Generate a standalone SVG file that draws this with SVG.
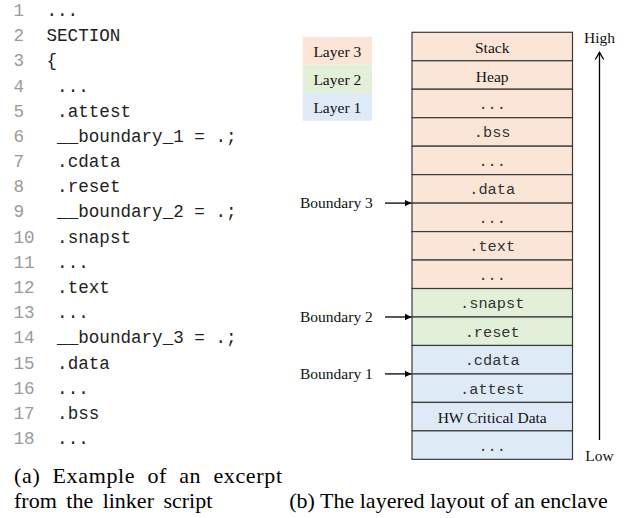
<svg xmlns="http://www.w3.org/2000/svg" width="628" height="518" viewBox="0 0 628 518">
<style>
.ln{font-family:"Liberation Mono","Courier New",monospace;font-size:17.6px;fill:#9a9a9a}
.code{font-family:"Liberation Mono","Courier New",monospace;font-size:17.6px;fill:#222}
.ser{font-family:"Liberation Serif","Times New Roman",serif;font-size:15.5px;fill:#111}
.mono{font-family:"Liberation Mono","Courier New",monospace;font-size:15.3px;fill:#333}
.cap{font-family:"Liberation Serif","Times New Roman",serif;font-size:22px;fill:#000}
.l3{fill:#FBE5D6}.l2{fill:#E2F0D9}.l1{fill:#DEEBF7}
.row{stroke:#3a3a3a;stroke-width:1.2}
.ctr{text-anchor:middle}
.arr{stroke:#000;stroke-width:1.3;fill:none}
</style>
<defs>
<marker id="tri" markerWidth="8" markerHeight="8" refX="7" refY="4" orient="auto" markerUnits="userSpaceOnUse">
<path d="M0,0.6 L7,4 L0,7.4 Z" fill="#000"/>
</marker>
</defs>

<g id="listing">
<text class="ln" x="13.5" y="16">1</text><text class="code" x="46.5" y="16">...</text>
<text class="ln" x="13.5" y="41.2">2</text><text class="code" x="46.5" y="41.2">SECTION</text>
<text class="ln" x="13.5" y="66.4">3</text><text class="code" x="46.5" y="66.4">{</text>
<text class="ln" x="13.5" y="91.5">4</text><text class="code" x="57.1" y="91.5">...</text>
<text class="ln" x="13.5" y="116.7">5</text><text class="code" x="57.1" y="116.7">.attest</text>
<text class="ln" x="13.5" y="141.9">6</text><text class="code" x="57.1" y="141.9">__boundary_1 = .;</text>
<text class="ln" x="13.5" y="167.1">7</text><text class="code" x="57.1" y="167.1">.cdata</text>
<text class="ln" x="13.5" y="192.3">8</text><text class="code" x="57.1" y="192.3">.reset</text>
<text class="ln" x="13.5" y="217.4">9</text><text class="code" x="57.1" y="217.4">__boundary_2 = .;</text>
<text class="ln" x="13.5" y="242.6">10</text><text class="code" x="57.1" y="242.6">.snapst</text>
<text class="ln" x="13.5" y="267.8">11</text><text class="code" x="57.1" y="267.8">...</text>
<text class="ln" x="13.5" y="293">12</text><text class="code" x="57.1" y="293">.text</text>
<text class="ln" x="13.5" y="318.2">13</text><text class="code" x="57.1" y="318.2">...</text>
<text class="ln" x="13.5" y="343.3">14</text><text class="code" x="57.1" y="343.3">__boundary_3 = .;</text>
<text class="ln" x="13.5" y="368.5">15</text><text class="code" x="57.1" y="368.5">.data</text>
<text class="ln" x="13.5" y="393.7">16</text><text class="code" x="57.1" y="393.7">...</text>
<text class="ln" x="13.5" y="418.9">17</text><text class="code" x="57.1" y="418.9">.bss</text>
<text class="ln" x="13.5" y="444">18</text><text class="code" x="57.1" y="444">...</text>
</g>

<g id="legend">
<rect class="l3" x="302.7" y="36.7" width="69.3" height="28"/>
<rect class="l2" x="302.7" y="64.7" width="69.3" height="28"/>
<rect class="l1" x="302.7" y="92.7" width="69.3" height="28"/>
<text class="ser ctr" x="337.3" y="57.2">Layer 3</text>
<text class="ser ctr" x="337.3" y="85.2">Layer 2</text>
<text class="ser ctr" x="337.3" y="113.2">Layer 1</text>
</g>

<g id="stack">
<g id="r0"><rect class="row l3" x="412" y="32.3" width="160.5" height="28.47"/><text class="ser ctr" x="492.2" y="53.3">Stack</text></g>
<g id="r1"><rect class="row l3" x="412" y="60.77" width="160.5" height="28.47"/><text class="ser ctr" x="492.2" y="81.8">Heap</text></g>
<g id="r2"><rect class="row l3" x="412" y="89.24" width="160.5" height="28.47"/><text class="mono ctr" x="492.2" y="108.8">...</text></g>
<g id="r3"><rect class="row l3" x="412" y="117.71" width="160.5" height="28.47"/><text class="mono ctr" x="492.2" y="137.3">.bss</text></g>
<g id="r4"><rect class="row l3" x="412" y="146.18" width="160.5" height="28.47"/><text class="mono ctr" x="492.2" y="165.8">...</text></g>
<g id="r5"><rect class="row l3" x="412" y="174.65" width="160.5" height="28.47"/><text class="mono ctr" x="492.2" y="194.2">.data</text></g>
<g id="r6"><rect class="row l3" x="412" y="203.12" width="160.5" height="28.47"/><text class="mono ctr" x="492.2" y="222.7">...</text></g>
<g id="r7"><rect class="row l3" x="412" y="231.59" width="160.5" height="28.47"/><text class="mono ctr" x="492.2" y="251.2">.text</text></g>
<g id="r8"><rect class="row l3" x="412" y="260.06" width="160.5" height="28.47"/><text class="mono ctr" x="492.2" y="279.7">...</text></g>
<g id="r9"><rect class="row l2" x="412" y="288.53" width="160.5" height="28.47"/><text class="mono ctr" x="492.2" y="308.1">.snapst</text></g>
<g id="r10"><rect class="row l2" x="412" y="317" width="160.5" height="28.47"/><text class="mono ctr" x="492.2" y="336.6">.reset</text></g>
<g id="r11"><rect class="row l1" x="412" y="345.47" width="160.5" height="28.47"/><text class="mono ctr" x="492.2" y="365.1">.cdata</text></g>
<g id="r12"><rect class="row l1" x="412" y="373.94" width="160.5" height="28.47"/><text class="mono ctr" x="492.2" y="393.5">.attest</text></g>
<g id="r13"><rect class="row l1" x="412" y="402.41" width="160.5" height="28.47"/><text class="ser ctr" x="492.2" y="423.4">HW Critical Data</text></g>
<g id="r14"><rect class="row l1" x="412" y="430.88" width="160.5" height="28.47"/><text class="mono ctr" x="492.2" y="450.5">...</text></g>
</g>

<g id="labels">
<text class="ser" x="300" y="208">Boundary 3</text>
<text class="ser" x="300" y="322">Boundary 2</text>
<text class="ser" x="300" y="379">Boundary 1</text>
<text class="ser ctr" x="599.5" y="43.3">High</text>
<text class="ser ctr" x="599.5" y="460.7">Low</text>
</g>

<g id="connectors">
<line class="arr" x1="385" y1="203.1" x2="411.5" y2="203.1" marker-end="url(#tri)"/>
<line class="arr" x1="385" y1="317" x2="411.5" y2="317" marker-end="url(#tri)"/>
<line class="arr" x1="385" y1="373.9" x2="411.5" y2="373.9" marker-end="url(#tri)"/>
<line class="arr" x1="599.5" y1="440" x2="599.5" y2="52.5"/>
<path class="arr" d="M595.3,59.5 L599.5,52.3 L603.7,59.5"/>
</g>

<g id="captions">
<text class="cap" x="14" y="482.5" textLength="268" lengthAdjust="spacing" word-spacing="6">(a) Example of an excerpt</text>
<text class="cap" x="14" y="508" word-spacing="4">from the linker script</text>
<text class="cap" x="289.3" y="508">(b) The layered layout of an enclave</text>
</g>
</svg>
